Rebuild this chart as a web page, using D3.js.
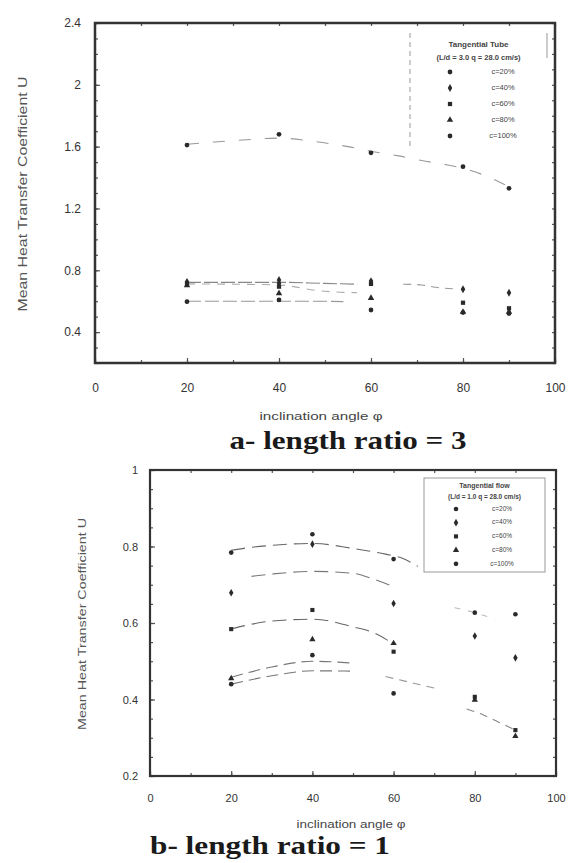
<!DOCTYPE html>
<html><head><meta charset="utf-8">
<script src="https://cdn.jsdelivr.net/npm/d3@7"></script>
<style>
body{margin:0;background:#fff;}
svg{display:block;}
.tick text{font-family:"Liberation Sans",Arial,sans-serif;fill:#333;}
</style></head>
<body>
<svg id="c" width="568" height="863"></svg>
<script>
// ---------------- DATA ----------------
const legendLabels = ["c=20%","c=40%","c=60%","c=80%","c=100%"];
const xTicks = [0,20,40,60,80,100];
const yTicksA = [0.4,0.8,1.2,1.6,2,2.4];
const yTickLabelsA = ["0.4","0.8","1.2","1.6","2","2.4"];
const yTicksB = [0.2,0.4,0.6,0.8,1];
const yTickLabelsB = ["0.2","0.4","0.6","0.8","1"];

// panel a (length ratio = 3)
const aX1 = [20,40,60,80,90];          const aY1 = [1.61,1.68,1.56,1.47,1.33];
const aX2 = [20,40,40,60,80,90];       const aY2 = [0.725,0.737,0.716,0.73,0.677,0.655];
const aX3 = [20,40,60,80,90];          const aY3 = [0.712,0.694,0.712,0.59,0.554];
const aX4 = [20,40,60,80,90];          const aY4 = [0.702,0.651,0.62,0.53,0.53];
const aX5 = [20,40,60,80,90];          const aY5 = [0.597,0.608,0.543,0.526,0.52];
// fitted (dashed) curves, panel a
const aFitX1 = [20,26,33,40,48,55,60,66,71,76,80,85,90];
const aFitY1 = [1.615,1.63,1.645,1.655,1.632,1.60,1.57,1.54,1.51,1.485,1.46,1.41,1.34];
const aFitX2 = [20,30,40,50,57];       const aFitY2 = [0.722,0.722,0.722,0.715,0.71];
const aFitX3 = [67,71,74,78];          const aFitY3 = [0.71,0.705,0.69,0.68];
const aFitX4 = [20,30,40,48,52,57];    const aFitY4 = [0.712,0.71,0.705,0.67,0.66,0.655];
const aFitX5 = [20,30,40,48,54];       const aFitY5 = [0.60,0.60,0.60,0.60,0.597];

// panel b (length ratio = 1)
const bX1 = [20,40,60,80,90];  const bY1 = [0.784,0.832,0.767,0.627,0.623];
const bX2 = [20,40,60,80,90];  const bY2 = [0.679,0.806,0.651,0.566,0.509];
const bX3 = [20,40,60,80,90];  const bY3 = [0.584,0.634,0.525,0.407,0.32];
const bX4 = [20,40,60,80,90];  const bY4 = [0.455,0.557,0.547,0.399,0.304];
const bX5 = [20,40,60];        const bY5 = [0.44,0.516,0.416];
const bFitX1 = [20,25,30,40,50,58,62,66];   const bFitY1 = [0.79,0.798,0.803,0.808,0.795,0.78,0.77,0.748];
const bFitX2 = [25,30,40,50,55,60];         const bFitY2 = [0.722,0.728,0.735,0.73,0.715,0.695];
const bFitX3 = [20,30,40,50,55,60];         const bFitY3 = [0.585,0.605,0.61,0.59,0.575,0.545];
const bFitX4 = [20,30,40,50];               const bFitY4 = [0.458,0.485,0.50,0.495];
const bFitX5 = [20,30,40,50];               const bFitY5 = [0.44,0.462,0.475,0.474];
const bFitX6 = [58,62,66,70];               const bFitY6 = [0.46,0.45,0.44,0.43];
const bFitX7 = [78,82,86,90];               const bFitY7 = [0.375,0.36,0.34,0.32];
const bFitX8 = [75,80,85];                  const bFitY8 = [0.64,0.627,0.61];

// ---------------- DRAW ----------------
const svg = d3.select("#c");
const zip = (xs,ys)=>xs.map((x,i)=>[x,ys[i]]);
const symTypes = [d3.symbolCircle,d3.symbolDiamond,d3.symbolSquare,d3.symbolTriangle,d3.symbolCircle];

function panel(cfg){
  const x = d3.scaleLinear().domain([0,100]).range([cfg.l,cfg.r]);
  const y = d3.scaleLinear().domain(cfg.yDom).range([cfg.b,cfg.t]);
  const g = svg.append("g");
  const xm = d3.range(0,101,10), ym = d3.range(cfg.yDom[0],cfg.yDom[1]+1e-9,cfg.yMinor);
  g.append("g").attr("transform",`translate(0,${cfg.b})`).call(d3.axisBottom(x).tickValues(xm).tickSize(-3).tickFormat(""));
  g.append("g").attr("transform",`translate(0,${cfg.t})`).call(d3.axisTop(x).tickValues(xm).tickSize(-3).tickFormat(""));
  g.append("g").attr("transform",`translate(${cfg.l},0)`).call(d3.axisLeft(y).tickValues(ym).tickSize(-3).tickFormat(""));
  g.append("g").attr("transform",`translate(${cfg.r},0)`).call(d3.axisRight(y).tickValues(ym).tickSize(-3).tickFormat(""));
  g.append("g").attr("transform",`translate(0,${cfg.b})`)
    .call(d3.axisBottom(x).tickValues(xTicks).tickSize(-5).tickPadding(cfg.xPad).tickFormat(d=>String(d)))
    .selectAll("text").style("font-size",cfg.tickFs+"px");
  g.append("g").attr("transform",`translate(${cfg.l},0)`)
    .call(d3.axisLeft(y).tickValues(cfg.yTicks).tickSize(-5).tickPadding(cfg.yPad).tickFormat((d,i)=>cfg.yLabels[i]))
    .selectAll("text").style("font-size",cfg.tickFs+"px");
  g.selectAll(".domain").remove();
  g.selectAll(".tick line").attr("stroke","#555").attr("stroke-width",1.2);
  g.append("rect").attr("x",cfg.l).attr("y",cfg.t).attr("width",cfg.r-cfg.l).attr("height",cfg.b-cfg.t)
    .attr("fill","none").attr("stroke","#333").attr("stroke-width",cfg.frameW);
  const line = d3.line().x(d=>x(d[0])).y(d=>y(d[1])).curve(d3.curveMonotoneX);
  cfg.fits.forEach(f=>{
    g.append("path").attr("d",line(zip(f[0],f[1]))).attr("fill","none")
      .attr("stroke",f[3]||"#777").attr("stroke-width",1.1).attr("stroke-dasharray",f[2]);
  });
  cfg.series.forEach((s,i)=>{
    g.selectAll(null).data(zip(s[0],s[1])).enter().append("path")
      .attr("d",d3.symbol().type(symTypes[i]).size(cfg.symSize))
      .attr("transform",d=>`translate(${x(d[0])},${y(d[1])})`)
      .attr("fill","#2a2a2a");
  });
  const L = cfg.leg;
  if (L.dash) {
    g.append("line").attr("x1",L.x0).attr("x2",L.x0).attr("y1",L.y0).attr("y2",L.y1)
      .attr("stroke","#999").attr("stroke-dasharray",L.dash);
    g.append("line").attr("x1",L.x1).attr("x2",L.x1).attr("y1",L.y0).attr("y2",L.y0+25)
      .attr("stroke","#999");
  } else {
    g.append("rect").attr("x",L.x0).attr("y",L.y0).attr("width",L.x1-L.x0).attr("height",L.y1-L.y0)
      .attr("fill","none").attr("stroke","#999").attr("stroke-width",1);
  }
  const cx = (L.x0+L.x1)/2;
  g.append("text").attr("x",cx).attr("y",L.ty).attr("text-anchor","middle").attr("dominant-baseline","middle")
    .attr("font-family","Liberation Sans,Arial,sans-serif").attr("font-size",L.fs+0.5).attr("font-weight","bold").attr("fill","#444").text(L.title);
  g.append("text").attr("x",cx).attr("y",L.ty2).attr("text-anchor","middle").attr("dominant-baseline","middle")
    .attr("font-family","Liberation Sans,Arial,sans-serif").attr("font-size",L.fs).attr("font-weight","bold").attr("fill","#444").text(L.sub);
  legendLabels.forEach((lab,i)=>{
    const yy = L.ey0 + i*L.estep;
    g.append("path").attr("d",d3.symbol().type(symTypes[i]).size(cfg.symSize))
      .attr("transform",`translate(${L.mx},${yy})`).attr("fill","#2a2a2a");
    g.append("text").attr("x",L.lx).attr("y",yy).attr("text-anchor","middle").attr("dominant-baseline","middle")
      .attr("font-family","Liberation Sans,Arial,sans-serif").attr("font-size",L.fs).attr("fill","#444").text(lab);
  });
  g.append("text").attr("x",cfg.xtX).attr("y",cfg.xtY).attr("text-anchor","middle").attr("dominant-baseline","middle")
    .attr("font-family","Liberation Sans,Arial,sans-serif").attr("font-size",cfg.xtFs).attr("fill","#444")
    .attr("textLength",cfg.xtLen).attr("lengthAdjust","spacingAndGlyphs").text("inclination angle φ");
  g.append("text").attr("transform",`translate(${cfg.ytX},${cfg.ytY}) rotate(-90)`).attr("text-anchor","middle").attr("dominant-baseline","middle")
    .attr("font-family","Liberation Sans,Arial,sans-serif").attr("font-size",cfg.ytFs).attr("fill","#555")
    .attr("textLength",cfg.ytLen).attr("lengthAdjust","spacingAndGlyphs").text("Mean Heat Transfer Coefficient U");
  g.append("text").attr("x",cfg.tX).attr("y",cfg.tY).attr("text-anchor","middle").attr("dominant-baseline","middle")
    .attr("font-family","Liberation Serif,Times New Roman,serif").attr("font-size",25).attr("font-weight","bold").attr("fill","#1a1a1a")
    .attr("textLength",cfg.tLen).attr("lengthAdjust","spacingAndGlyphs").text(cfg.title);
}

panel({
  l:95,r:555,t:23,b:363,yDom:[0.2,2.4],yMinor:0.1,yTicks:yTicksA,yLabels:yTickLabelsA,
  xPad:20,yPad:14,tickFs:12,frameW:2.5,symSize:18,
  series:[[aX1,aY1],[aX2,aY2],[aX3,aY3],[aX4,aY4],[aX5,aY5]],
  fits:[[aFitX1,aFitY1,"12,14","#999"],[aFitX2,aFitY2,"14,3","#888"],[aFitX3,aFitY3,"8,6","#999"],
        [aFitX4,aFitY4,"8,7","#aaa"],[aFitX5,aFitY5,"14,4","#999"]],
  leg:{x0:410,x1:547,y0:33,y1:150,dash:"5,4",title:"Tangential Tube",sub:"(L/d = 3.0  q = 28.0 cm/s)",
       ty:45,ty2:58,ey0:72,estep:16,mx:450,lx:503,fs:7.5},
  xtX:321,xtY:417,xtFs:11.5,xtLen:123,ytX:24,ytY:194,ytFs:12.5,ytLen:235,
  tX:348,tY:443,tLen:237,title:"a- length ratio = 3"
});

panel({
  l:150,r:556,t:470,b:776,yDom:[0.2,1],yMinor:0.05,yTicks:yTicksB,yLabels:yTickLabelsB,
  xPad:18,yPad:12,tickFs:11,frameW:2.2,symSize:17,
  series:[[bX1,bY1],[bX2,bY2],[bX3,bY3],[bX4,bY4],[bX5,bY5]],
  fits:[[bFitX1,bFitY1,"14,7","#666"],[bFitX2,bFitY2,"14,7","#777"],[bFitX3,bFitY3,"14,7","#666"],
        [bFitX4,bFitY4,"12,6","#777"],[bFitX5,bFitY5,"12,6","#777"],[bFitX6,bFitY6,"8,6","#999"],
        [bFitX7,bFitY7,"8,6","#888"],[bFitX8,bFitY8,"6,8","#bbb"]],
  leg:{x0:424,x1:545,y0:478,y1:572,dash:null,title:"Tangential flow",sub:"(L/d = 1.0  q = 28.0 cm/s)",
       ty:486,ty2:497,ey0:509,estep:13.7,mx:456,lx:502,fs:6.5},
  xtX:351,xtY:825,xtFs:10.5,xtLen:109,ytX:83,ytY:624,ytFs:11,ytLen:212,
  tX:270,tY:848,tLen:240,title:"b- length ratio = 1"
});
</script>
</body></html>
